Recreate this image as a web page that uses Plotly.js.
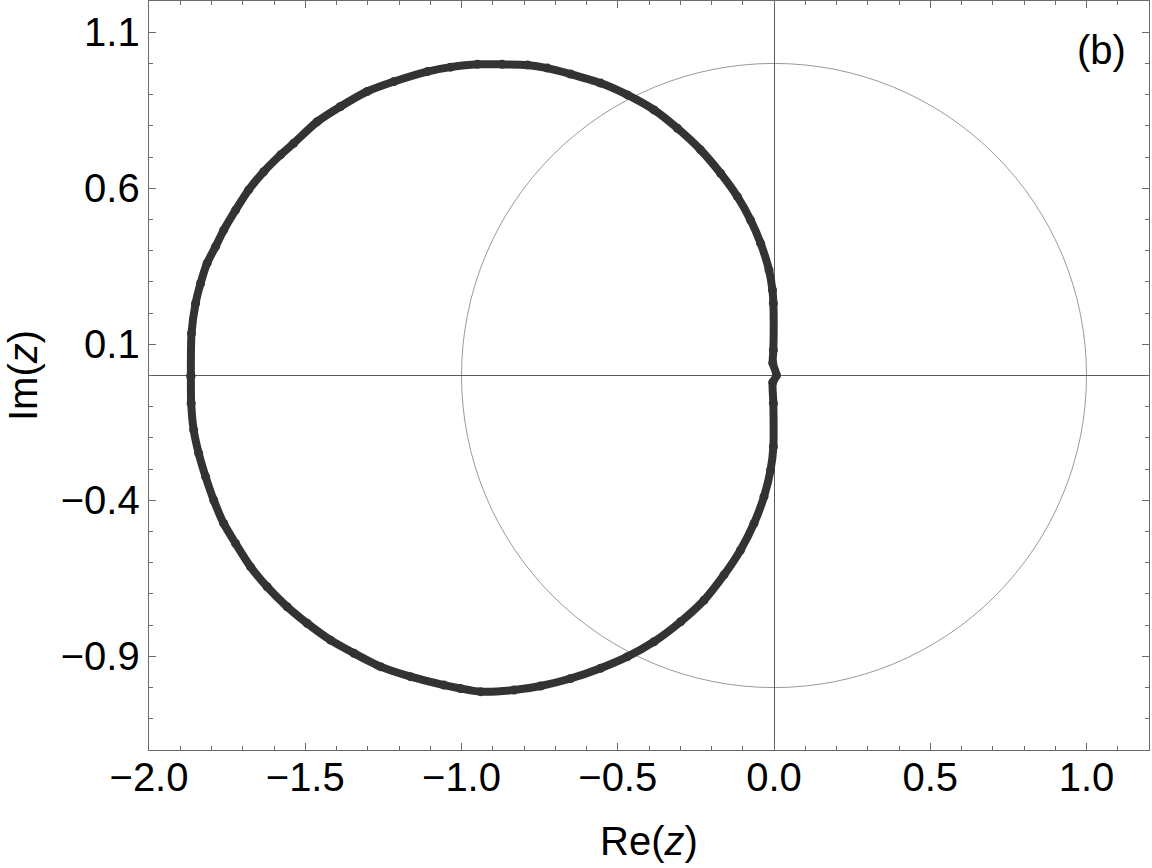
<!DOCTYPE html>
<html>
<head>
<meta charset="utf-8">
<script src="https://cdn.plot.ly/plotly-3.0.1.min.js"></script>
<style>html,body{margin:0;padding:0;background:#fff;}#chart{width:1152px;height:868px;}</style>
</head>
<body>
<div id="chart"></div>
<script>
// Boundary curve points (Re, Im), traced around the closed curve
const curveRe = [
  -1.866, -1.864, -1.851, -1.835, -1.814, -1.787, -1.761, -1.723, -1.681, -1.633,
  -1.579, -1.537, -1.462, -1.387, -1.302, -1.216, -1.109, -1.035, -0.949, -0.870,
  -0.789, -0.725, -0.651, -0.555, -0.469, -0.384, -0.309, -0.235, -0.171, -0.117,
  -0.075, -0.043, -0.016, -0.005, -0.002, -0.002, -0.004, 0.008,
  -0.004, -0.002, -0.002, -0.011, -0.032, -0.064, -0.107, -0.160, -0.224, -0.299,
  -0.384, -0.469, -0.555, -0.651, -0.747, -0.832, -0.939, -1.003, -1.056, -1.163,
  -1.259, -1.344, -1.419, -1.494, -1.558, -1.622, -1.675, -1.723, -1.761, -1.793,
  -1.819, -1.841, -1.857, -1.865, -1.866
];
const curveIm = [
  0.000, 0.135, 0.231, 0.295, 0.360, 0.413, 0.466, 0.530, 0.595, 0.653,
  0.707, 0.744, 0.813, 0.862, 0.910, 0.942, 0.974, 0.988, 0.997, 0.997,
  0.995, 0.985, 0.966, 0.937, 0.899, 0.851, 0.792, 0.723, 0.648, 0.573,
  0.498, 0.424, 0.338, 0.274, 0.231, 0.082, 0.040, 0.000,
  -0.022, -0.089, -0.228, -0.303, -0.388, -0.474, -0.559, -0.639, -0.720, -0.789,
  -0.853, -0.901, -0.938, -0.971, -0.995, -1.008, -1.013, -1.003, -0.992, -0.965,
  -0.933, -0.890, -0.848, -0.794, -0.741, -0.677, -0.613, -0.538, -0.474, -0.399,
  -0.324, -0.249, -0.175, -0.089, -0.004
];
const unitCircleRadius = 1;
const xRange = [-2.0, 1.2];
const yRange = [-1.2, 1.2];
const yTickVals = [1.1, 0.6, 0.1, -0.4, -0.9];
const yTickText = ['1.1', '0.6', '0.1', '\u22120.4', '\u22120.9'];
const xTickVals = [-2.0, -1.5, -1.0, -0.5, 0.0, 0.5, 1.0];
const xTickText = ['\u22122.0', '\u22121.5', '\u22121.0', '\u22120.5', '0.0', '0.5', '1.0'];
const panelLabel = '(b)';

const FONT = 'Liberation Sans, Arial, sans-serif';
const FS = 40;
const frameColor = '#6a6a6a';

const traces = [{
  x: curveRe, y: curveIm,
  type: 'scatter', mode: 'lines+markers',
  line: {color: '#333333', width: 8, shape: 'spline', smoothing: 0.7},
  marker: {color: '#333333', size: 9},
  hoverinfo: 'skip', showlegend: false
}];

function axisBase() {
  return {
    showgrid: false,
    zeroline: true, zerolinecolor: '#5a5a5a', zerolinewidth: 1,
    showline: true, linecolor: frameColor, linewidth: 1.3, mirror: 'allticks',
    ticks: 'inside', ticklen: 7, tickwidth: 1, tickcolor: frameColor,
    tickfont: {family: FONT, size: FS, color: '#000'},
    minor: {dtick: 0.1, tick0: 0, ticks: 'inside', ticklen: 4, tickwidth: 1, tickcolor: frameColor, showgrid: false},
    fixedrange: true
  };
}

const xaxis = Object.assign(axisBase(), {
  range: xRange, tickmode: 'array', tickvals: xTickVals, ticktext: xTickText,
  ticklabelstandoff: -8,
  title: {text: 'Re(<i>z</i>)', font: {family: FONT, size: FS, color: '#000'}, standoff: 28}
});
const yaxis = Object.assign(axisBase(), {
  range: yRange, tickmode: 'array', tickvals: yTickVals, ticktext: yTickText,
  ticklabelstandoff: 0,
  title: {text: 'Im(<i>z</i>)', font: {family: FONT, size: FS, color: '#000'}, standoff: 10}
});

const layout = {
  width: 1152, height: 868,
  margin: {l: 149, r: 3, t: 1, b: 118},
  paper_bgcolor: '#fff', plot_bgcolor: '#fff',
  xaxis: xaxis, yaxis: yaxis,
  shapes: [{
    type: 'circle', xref: 'x', yref: 'y', layer: 'below',
    x0: -unitCircleRadius, x1: unitCircleRadius, y0: -unitCircleRadius, y1: unitCircleRadius,
    line: {color: '#9a9a9a', width: 1}
  }],
  annotations: [{
    text: panelLabel, xref: 'paper', yref: 'paper', x: 0.952, y: 0.9345,
    xanchor: 'center', yanchor: 'middle', showarrow: false,
    font: {family: FONT, size: FS, color: '#000'}
  }]
};

Plotly.newPlot('chart', traces, layout, {displayModeBar: false, staticPlot: true});
</script>
</body>
</html>
